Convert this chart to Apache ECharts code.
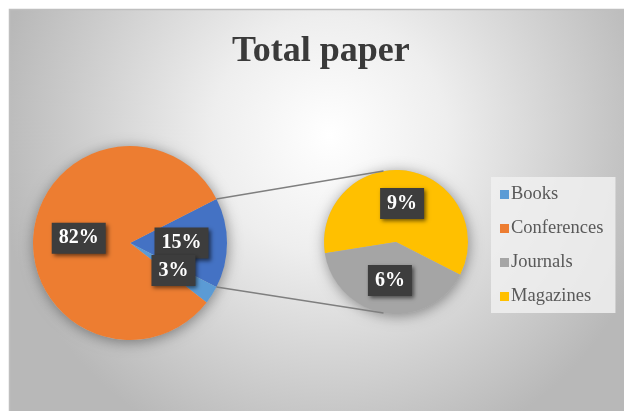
<!DOCTYPE html>
<html>
<head>
<meta charset="utf-8">
<script src="https://cdn.jsdelivr.net/npm/echarts@6/dist/echarts.min.js"></script>
<style>
  html, body { margin: 0; padding: 0; background: #ffffff; }
  #chart { width: 624px; height: 411px; }
</style>
</head>
<body>
<div id="chart"></div>
<script>
// Paper counts by venue type, in percent of the total
const categories = ['Books', 'Conferences', 'Journals', 'Magazines'];
const shares = [3, 82, 6, 9];
const colors = ['#5B9BD5', '#ED7D31', '#A5A5A5', '#FFC000'];

// The small slices split out into the secondary pie
const splitNames = ['Magazines', 'Journals'];
const otherColor = '#4472C4';

const share = name => shares[categories.indexOf(name)];
const colorOf = name => colors[categories.indexOf(name)];
const otherTotal = splitNames.reduce((s, n) => s + share(n), 0);

// Layout
const mainCenter = [130, 243], mainRadius = 97;
const subCenter = [396, 242], subRadius = 72;
const mainStart = otherTotal / 100 * 360 / 2;   // "other" slice centred on 3 o'clock
const subStart = 189;
const connectorAngle = 100;

const serif = '"Liberation Serif", "Times New Roman", serif';

const labelStyle = {
  show: true,
  position: 'inside',
  formatter: p => p.value + '%',
  color: '#ffffff',
  fontFamily: serif,
  fontWeight: 'bold',
  fontSize: 20,
  lineHeight: 22,
  backgroundColor: '#3d3d3d',
  padding: [5, 7, 4, 7],
  shadowColor: 'rgba(0,0,0,0.55)',
  shadowBlur: 4,
  shadowOffsetX: 2,
  shadowOffsetY: 2
};

const mainData = [
  { name: 'Other', value: otherTotal, itemStyle: { color: otherColor } },
  { name: 'Books', value: share('Books'), itemStyle: { color: colorOf('Books') } },
  { name: 'Conferences', value: share('Conferences'), itemStyle: { color: colorOf('Conferences') } }
];
const subData = splitNames.map(n => ({ name: n, value: share(n), itemStyle: { color: colorOf(n) } }));

// Connector lines: from the edges of the "other" slice to the top and bottom of the secondary pie
const rad = d => d * Math.PI / 180;
const onCircle = (c, r, deg) => [c[0] + r * Math.cos(rad(deg)), c[1] - r * Math.sin(rad(deg))];
const upA = onCircle(mainCenter, mainRadius, mainStart);
const loA = onCircle(mainCenter, mainRadius, -mainStart);
const upB = onCircle(subCenter, subRadius, connectorAngle);
const loB = onCircle(subCenter, subRadius, -connectorAngle);

const chart = echarts.init(document.getElementById('chart'), null, { renderer: 'canvas' });

const shadowPie = (c, r) => ({
  type: 'pie', center: c, radius: r, silent: true, z: 1,
  label: { show: false }, labelLine: { show: false },
  data: [{ value: 1, name: '', itemStyle: { color: '#bbbbbb', shadowBlur: 14, shadowColor: 'rgba(0,0,0,0.4)', shadowOffsetX: 1, shadowOffsetY: 2 } }],
  emphasis: { disabled: true }, tooltip: { show: false }
});

chart.setOption({
  animation: false,
  title: {
    text: 'Total paper',
    left: 227,
    top: 29,
    textStyle: { fontFamily: serif, fontWeight: 'bold', fontSize: 36, color: '#3a3a3a' }
  },
  legend: {
    orient: 'vertical',
    left: 491,
    top: 177,
    data: categories,
    icon: 'rect',
    itemWidth: 9,
    itemHeight: 9,
    itemGap: 15,
    padding: [8, 12, 7, 9],
    backgroundColor: 'rgba(240,240,240,0.85)',
    textStyle: { fontFamily: serif, fontSize: 18.5, lineHeight: 18, color: '#595959', padding: [0, 0, 0, -3] }
  },
  graphic: [
    {
      type: 'rect', z: -10, silent: true,
      shape: { x: 9.5, y: 9.5, width: 640, height: 420 },
      style: {
        stroke: '#bfbfbf', lineWidth: 1.5,
        fill: new echarts.graphic.RadialGradient(0.5, 0.3, 0.8, [
          { offset: 0, color: '#ffffff' },
          { offset: 0.35, color: '#eeeeee' },
          { offset: 1, color: '#b8b8b8' }
        ])
      }
    },
    {
      type: 'line', z: 5, silent: true,
      shape: { x1: upA[0], y1: upA[1], x2: upB[0], y2: upB[1] },
      style: { stroke: '#7f7f7f', lineWidth: 1.5 }
    },
    {
      type: 'line', z: 5, silent: true,
      shape: { x1: loA[0], y1: loA[1], x2: loB[0], y2: loB[1] },
      style: { stroke: '#7f7f7f', lineWidth: 1.5 }
    }
  ],
  series: [
    shadowPie(mainCenter, mainRadius),
    shadowPie(subCenter, subRadius),
    {
      type: 'pie', name: 'Total paper', z: 2,
      center: mainCenter, radius: mainRadius,
      startAngle: mainStart, clockwise: true,
      avoidLabelOverlap: false,
      labelLayout: { hideOverlap: false },
      label: labelStyle, labelLine: { show: false },
      itemStyle: { borderWidth: 0 },
      data: mainData
    },
    {
      type: 'pie', name: 'Other', z: 2,
      center: subCenter, radius: subRadius,
      startAngle: subStart, clockwise: true,
      avoidLabelOverlap: false,
      labelLayout: { hideOverlap: false },
      label: labelStyle, labelLine: { show: false },
      itemStyle: { borderWidth: 0 },
      data: subData
    }
  ]
});
</script>
</body>
</html>
